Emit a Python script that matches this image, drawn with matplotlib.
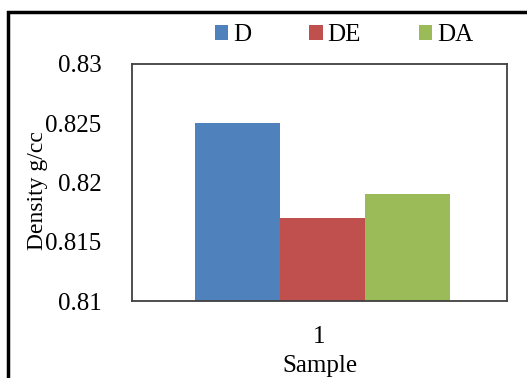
import matplotlib.pyplot as plt
import numpy as np
from matplotlib.patches import Rectangle

plt.rcParams['font.family'] = ['Liberation Serif', 'DejaVu Serif']

samples = ['1']
series = ['D', 'DE', 'DA']
density = [0.825, 0.817, 0.819]
colors = ['#4f81bd', '#c0504d', '#9bbb59']
yticks = [0.81, 0.815, 0.82, 0.825, 0.83]
ytick_labels = ['0.81', '0.815', '0.82', '0.825', '0.83']

fig = plt.figure(figsize=(5.27, 3.78), dpi=100)
ax = fig.add_axes([132 / 527, 1 - 301 / 378, 375 / 527, 237 / 378])

# outer chart frame
fig.patches.append(Rectangle((8 / 527, -0.05), 1.1, 1 - 12 / 378 + 0.05,
                             transform=fig.transFigure, fill=False,
                             edgecolor='black', linewidth=2.5))

x = np.arange(len(samples))
width = 0.227
for i, (name, val, c) in enumerate(zip(series, density, colors)):
    ax.bar(x + (i - 1) * width + 0.008, val - yticks[0], width, bottom=yticks[0],
           color=c, label=name)

ax.set_xlim(-0.5, 0.5)
ax.set_ylim(yticks[0], yticks[-1])
ax.set_yticks(yticks)
ax.set_yticklabels(ytick_labels, fontsize=18)
ax.set_xticks(x)
ax.set_xticklabels(samples, fontsize=18)
ax.tick_params(length=0)
ax.tick_params(axis='y', pad=22)
ax.tick_params(axis='x', pad=18)
ax.set_xlabel('Sample', fontsize=18, labelpad=5)
ax.set_ylabel('Density g/cc', fontsize=17, labelpad=0)
ax.yaxis.set_label_coords(-0.225, 0.464)
for s in ax.spines.values():
    s.set_color('#404040')
    s.set_linewidth(1.3)

fig.legend(loc='center', bbox_to_anchor=(344 / 527, 1 - 35 / 378), ncol=3,
           frameon=False, fontsize=18, handlelength=0.55, handleheight=0.55,
           handletextpad=0.2, columnspacing=2.3, borderaxespad=0)

fig.savefig('out.png', dpi=100)
